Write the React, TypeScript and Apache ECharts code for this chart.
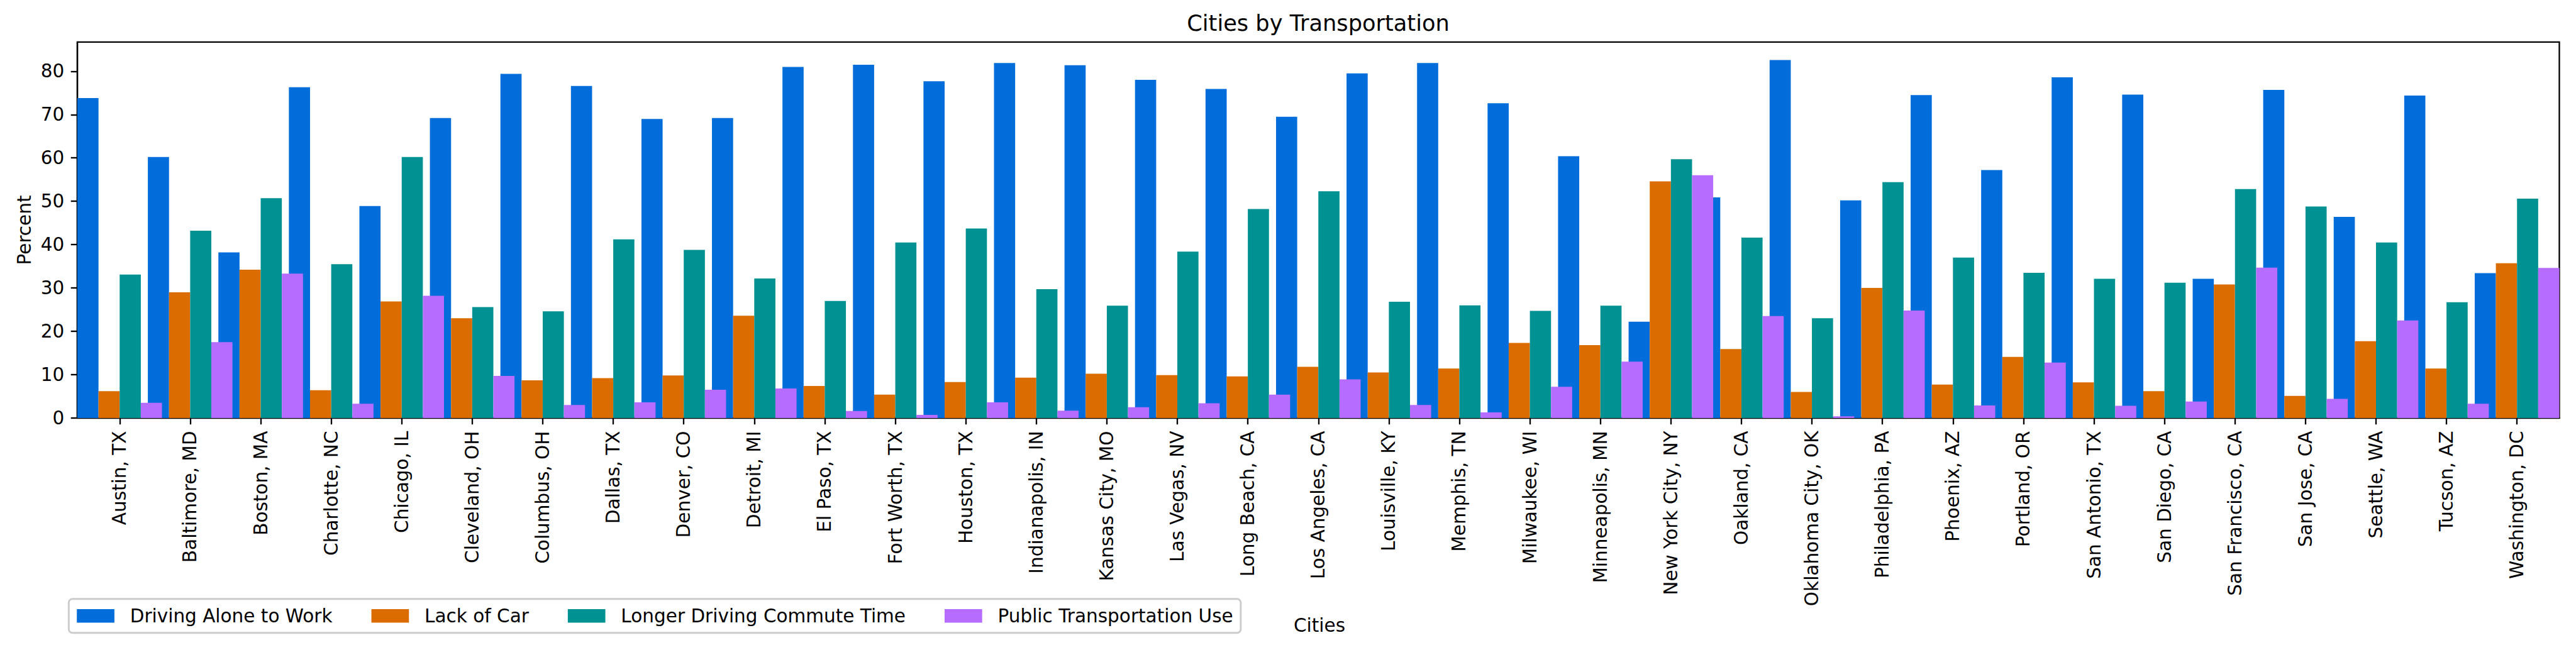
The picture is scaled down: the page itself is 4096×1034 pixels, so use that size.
import React, { useEffect, useRef } from "react";
import * as echarts from "echarts";

const cities = [
  "Austin, TX", "Baltimore, MD", "Boston, MA", "Charlotte, NC", "Chicago, IL",
  "Cleveland, OH", "Columbus, OH", "Dallas, TX", "Denver, CO", "Detroit, MI",
  "El Paso, TX", "Fort Worth, TX", "Houston, TX", "Indianapolis, IN", "Kansas City, MO",
  "Las Vegas, NV", "Long Beach, CA", "Los Angeles, CA", "Louisville, KY", "Memphis, TN",
  "Milwaukee, WI", "Minneapolis, MN", "New York City, NY", "Oakland, CA", "Oklahoma City, OK",
  "Philadelphia, PA", "Phoenix, AZ", "Portland, OR", "San Antonio, TX", "San Diego, CA",
  "San Francisco, CA", "San Jose, CA", "Seattle, WA", "Tucson, AZ", "Washington, DC",
];

const drivingAlone = [73.8, 60.2, 38.2, 76.3, 48.9, 69.2, 79.4, 76.6, 69.0, 69.2, 81.0, 81.5, 77.7, 81.9, 81.4, 78.0, 75.9, 69.5, 79.5, 81.9, 72.6, 60.4, 22.2, 50.9, 82.6, 50.2, 74.5, 57.2, 78.6, 74.6, 32.1, 75.7, 46.4, 74.4, 33.4];
const lackOfCar = [6.2, 29.0, 34.2, 6.4, 26.9, 23.0, 8.7, 9.2, 9.8, 23.6, 7.4, 5.4, 8.3, 9.3, 10.2, 9.9, 9.6, 11.8, 10.5, 11.4, 17.3, 16.8, 54.6, 15.9, 6.0, 30.0, 7.7, 14.1, 8.2, 6.2, 30.8, 5.1, 17.7, 11.4, 35.7];
const longerCommute = [33.1, 43.2, 50.7, 35.5, 60.2, 25.6, 24.6, 41.2, 38.8, 32.2, 27.0, 40.5, 43.7, 29.7, 25.9, 38.4, 48.2, 52.3, 26.8, 26.0, 24.7, 25.9, 59.7, 41.6, 23.0, 54.4, 37.0, 33.5, 32.1, 31.2, 52.8, 48.8, 40.5, 26.7, 50.6];
const publicTransit = [3.5, 17.5, 33.3, 3.3, 28.2, 9.7, 3.0, 3.6, 6.5, 6.8, 1.6, 0.7, 3.6, 1.7, 2.5, 3.4, 5.4, 8.9, 3.0, 1.3, 7.2, 13.0, 56.0, 23.5, 0.4, 24.8, 2.9, 12.8, 2.8, 3.8, 34.7, 4.4, 22.5, 3.3, 34.6];

const seriesNames = ["Driving Alone to Work", "Lack of Car", "Longer Driving Commute Time", "Public Transportation Use"];
const seriesValues = [drivingAlone, lackOfCar, longerCommute, publicTransit];
const seriesColors = ["#006ddb", "#db6d00", "#009292", "#b66dff"];
const yTicks = [0, 10, 20, 30, 40, 50, 60, 70, 80];

const FONT = '"DejaVu Sans"';
const BAR_W = 0.3;
const offsets = [-0.6, -0.3, 0, 0.3];

export default function App() {
  const ref = useRef<HTMLDivElement>(null);
  useEffect(() => {
    if (!ref.current) return;
    const chart = echarts.init(ref.current, null, { renderer: "svg" });
    const allMax = Math.max(...seriesValues.flat());
    const option: any = {
      animation: false,
      backgroundColor: "#ffffff",
      grid: {
        left: 123,
        right: 26.5,
        top: 66.9,
        bottom: 369.1,
        containLabel: false,
        outerBoundsMode: "none",
        show: true,
        borderColor: "#000",
        borderWidth: 2.35,
        backgroundColor: "transparent",
      },
      xAxis: {
        type: "value",
        min: -0.6,
        max: cities.length - 1 + 0.6,
        splitLine: { show: false },
        axisLine: { show: true, onZero: false, lineStyle: { color: "#000", width: 2.35 } },
        axisTick: {
          show: true,
          length: 10.3,
          lineStyle: { color: "#000", width: 2.35 },
          customValues: cities.map((_, i) => i),
        },
        axisLabel: {
          show: true,
          rotate: 90,
          margin: 20.6,
          fontFamily: FONT,
          fontSize: 29.5,
          color: "#000",
          customValues: cities.map((_, i) => i),
          formatter: (v: number) => cities[Math.round(v)] ?? "",
        },
      },
      yAxis: {
        type: "value",
        min: 0,
        max: allMax * 1.05,
        splitLine: { show: false },
        axisLine: { show: true, onZero: false, lineStyle: { color: "#000", width: 2.35 } },
        axisTick: {
          show: true,
          length: 10.3,
          lineStyle: { color: "#000", width: 2.35 },
          customValues: yTicks,
        },
        axisLabel: {
          show: true,
          margin: 20.6,
          fontFamily: FONT,
          fontSize: 29.5,
          color: "#000",
          customValues: yTicks,
          formatter: (v: number) => String(v),
        },
      },
      legend: {
        left: 109.3,
        top: 952.7,
        orient: "horizontal",
        icon: "rect",
        itemWidth: 59.7,
        itemHeight: 21.6,
        itemGap: 62,
        padding: [10, 12.2, 10, 12.9],
        backgroundColor: "rgba(255,255,255,0.8)",
        borderColor: "#cccccc",
        borderWidth: 2.9,
        borderRadius: 6,
        textStyle: {
          fontFamily: FONT,
          fontSize: 29.5,
          color: "#000",
          lineHeight: 34,
          padding: [0, 0, 0, 19.8],
        },
        data: seriesNames,
      },
      graphic: [
        {
          type: "text",
          x: 2096,
          y: 36.9,
          style: {
            text: "Cities by Transportation",
            font: `35.2px ${FONT}`,
            fill: "#000",
            align: "center",
            verticalAlign: "middle",
            textAlign: "center",
            textVerticalAlign: "middle",
          },
        },
        {
          type: "text",
          x: 2098,
          y: 995,
          style: {
            text: "Cities",
            font: `29.5px ${FONT}`,
            fill: "#000",
            align: "center",
            verticalAlign: "middle",
            textAlign: "center",
            textVerticalAlign: "middle",
          },
        },
        {
          type: "text",
          x: 38.5,
          y: 366,
          rotation: Math.PI / 2,
          style: {
            text: "Percent",
            font: `29.5px ${FONT}`,
            fill: "#000",
            align: "center",
            verticalAlign: "middle",
            textAlign: "center",
            textVerticalAlign: "middle",
          },
        },
      ],
      series: seriesNames.map((name, si) => ({
        type: "custom",
        name,
        itemStyle: { color: seriesColors[si] },
        encode: { x: 0, y: 1 },
        data: seriesValues[si].map((v, i) => [i, v]),
        renderItem: (params: any, api: any) => {
          const x = api.value(0);
          const v = api.value(1);
          const p0 = api.coord([x + offsets[si], v]);
          const p1 = api.coord([x + offsets[si] + BAR_W, 0]);
          return {
            type: "rect",
            shape: { x: p0[0], y: p0[1], width: p1[0] - p0[0], height: p1[1] - p0[1] },
            style: { fill: seriesColors[si] },
          };
        },
      })),
    };
    chart.setOption(option);
    return () => chart.dispose();
  }, []);
  return (
    <div
      ref={ref}
      style={{ position: "fixed", left: 0, top: 0, width: 4096, height: 1034, background: "#fff" }}
    />
  );
}
